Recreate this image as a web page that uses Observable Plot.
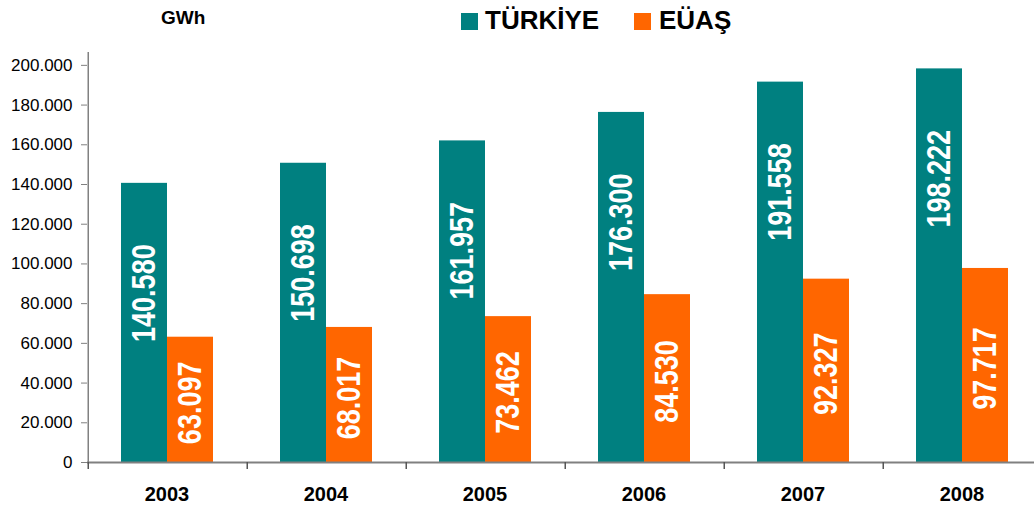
<!DOCTYPE html>
<html>
<head>
<meta charset="utf-8">
<script src="https://cdn.jsdelivr.net/npm/d3@7"></script>
<script src="https://cdn.jsdelivr.net/npm/@observablehq/plot@0.6"></script>
<style>
  html, body { margin: 0; padding: 0; background: #fff; overflow: hidden; }
  #wrap { position: relative; width: 1034px; height: 510px; overflow: hidden; font-family: "Liberation Sans", Arial, sans-serif; }
  .hdr { position: absolute; font-weight: bold; color: #000; white-space: nowrap; }
  .sw { position: absolute; width: 17px; height: 17px; }
  #chart { position: absolute; left: 0; top: 45px; }
</style>
</head>
<body>
<div id="wrap">
  <div class="hdr" id="unit" style="left:161px; top:8px; font-size:19px; line-height:19px;"></div>
  <div class="sw" id="sw0" style="left:461px; top:13px;"></div>
  <div class="hdr" id="lg0" style="left:485px; top:7px; font-size:26px; line-height:26px;"></div>
  <div class="sw" id="sw1" style="left:634px; top:13px;"></div>
  <div class="hdr" id="lg1" style="left:659px; top:7px; font-size:26px; line-height:26px;"></div>
  <div id="chart"></div>
</div>
<script>
// ---- data ----
const UNIT = "GWh";
const SERIES = ["TÜRKİYE", "EÜAŞ"];
const COLORS = ["#008080", "#FF6600"];
const YEARS = ["2003", "2004", "2005", "2006", "2007", "2008"];
const TURKIYE = [140580, 150698, 161957, 176300, 191558, 198222];
const EUAS = [63097, 68017, 73462, 84530, 92327, 97717];
const Y_TICKS = [0, 20000, 40000, 60000, 80000, 100000, 120000, 140000, 160000, 180000, 200000];
const Y_MAX = 210000;

// ---- table ----
const rows = [];
YEARS.forEach((y, i) => {
  rows.push({year: y, series: SERIES[0], value: TURKIYE[i]});
  rows.push({year: y, series: SERIES[1], value: EUAS[i]});
});
const loc = d3.formatLocale({decimal: ",", thousands: ".", grouping: [3], currency: ["", ""]});
const fmt = loc.format(",");

// header
document.getElementById("unit").textContent = UNIT;
document.getElementById("lg0").textContent = SERIES[0];
document.getElementById("lg1").textContent = SERIES[1];
document.getElementById("sw0").style.background = COLORS[0];
document.getElementById("sw1").style.background = COLORS[1];

// layout
const W = 1041, H = 465, ML = 87, MR = 0, MT = 0, MB = 48;
const PAD_OUT = 0.71;
const facetW = (W - ML - MR) / YEARS.length;
const step = facetW / (SERIES.length + 2 * PAD_OUT);
const edgeDx = -(PAD_OUT * step + step / 2);
const AX = "#808080";
const LABEL_FONT = "'Liberation Sans', Arial, sans-serif";

const chart = Plot.plot({
  width: W,
  height: H,
  marginLeft: ML,
  marginRight: MR,
  marginTop: MT,
  marginBottom: MB,
  style: {fontFamily: LABEL_FONT, background: "transparent", maxWidth: "none", overflow: "visible"},
  fx: {domain: YEARS, padding: 0, label: null},
  x: {domain: SERIES, paddingInner: 0, paddingOuter: PAD_OUT, axis: null, label: null},
  y: {domain: [0, Y_MAX], label: null},
  color: {domain: SERIES, range: COLORS},
  marks: [
    Plot.barY(rows, {fx: "year", x: "series", y: "value", fill: "series"}),
    Plot.ruleY([0], {stroke: AX, strokeWidth: 2}),
    Plot.ruleX([YEARS[0]], {fx: d => d, x: () => SERIES[0], dx: edgeDx, y1: 0, y2: Y_MAX, insetBottom: -7, stroke: AX, strokeWidth: 1.5}),
    Plot.ruleX(YEARS, {fx: d => d, x: () => SERIES[0], dx: edgeDx, y1: 0, y2: 0, insetBottom: -7, stroke: "#555", strokeWidth: 1.5}),
    Plot.axisY({ticks: Y_TICKS, tickFormat: fmt, tickSize: 6, tickPadding: 9, fontSize: 17, stroke: AX, color: "#000", label: null}),
    Plot.axisFx({anchor: "bottom", tickSize: 0, tickPadding: 24, fontSize: 20, fontWeight: "bold", color: "#000", label: null}),
    Plot.text(rows.filter(d => d.series === SERIES[0]), {
      fx: "year", x: "series", y: "value", text: d => fmt(d.value),
      rotate: -90, textAnchor: "end", dy: 61, fill: "white",
      fontFamily: LABEL_FONT, fontWeight: "bold", fontSize: 27
    }),
    Plot.text(rows.filter(d => d.series === SERIES[1]), {
      fx: "year", x: "series", y: d => d.value / 2, text: d => fmt(d.value),
      rotate: -90, textAnchor: "middle", dy: 3, fill: "white",
      fontFamily: LABEL_FONT, fontWeight: "bold", fontSize: 27
    })
  ]
});
// widen the rotated value labels' glyphs (the source font is taller than it is long)
chart.querySelectorAll('g[aria-label="text"] text').forEach(t => {
  const tr = t.getAttribute("transform");
  if (tr && tr.includes("rotate")) t.setAttribute("transform", tr + " scale(1,1.2)");
});
document.getElementById("chart").appendChild(chart);
</script>
</body>
</html>
